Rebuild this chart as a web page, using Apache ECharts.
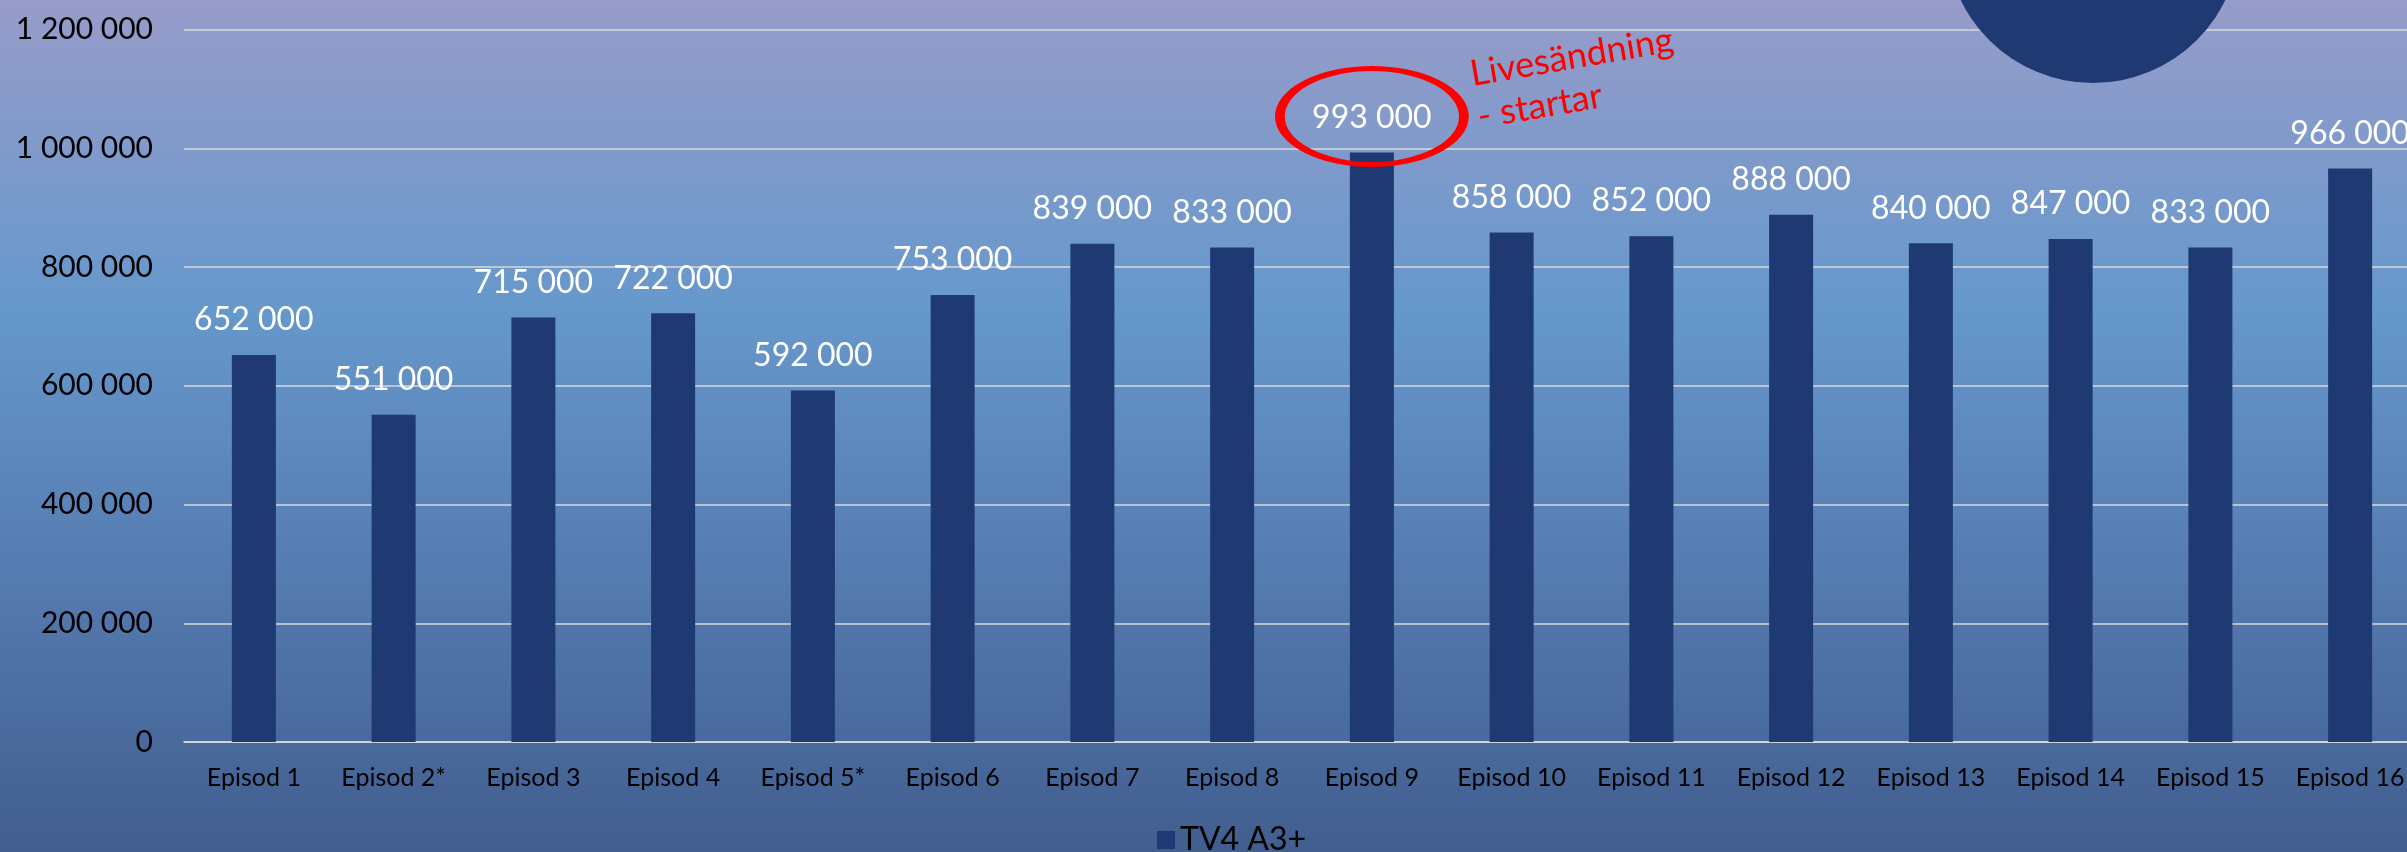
<!DOCTYPE html>
<html>
<head>
<meta charset="utf-8">
<script src="https://cdn.jsdelivr.net/npm/echarts@6/dist/echarts.min.js"></script>
<style>
html,body{margin:0;padding:0;width:2407px;height:852px;overflow:hidden;}
#c{width:2407px;height:852px;}
</style>
</head>
<body>
<div id="c"></div>
<script>
var categories = ['Episod 1','Episod 2*','Episod 3','Episod 4','Episod 5*','Episod 6','Episod 7','Episod 8','Episod 9','Episod 10','Episod 11','Episod 12','Episod 13','Episod 14','Episod 15','Episod 16'];
var viewers = [652000,551000,715000,722000,592000,753000,839000,833000,993000,858000,852000,888000,840000,847000,833000,966000];
var seriesName = 'TV4 A3+';
var yTicks = [0,200000,400000,600000,800000,1000000,1200000];
var annotationText = 'Livesändning\n- startar';
var annotatedIndex = 8;

function fmt(v){
  return String(v).replace(/\B(?=(\d{3})+(?!\d))/g,' ');
}

var chart = echarts.init(document.getElementById('c'));
var option = {
  animation:false,
  backgroundColor:{
    type:'linear',x:0,y:0,x2:0,y2:1,
    colorStops:[
      {offset:0,color:'#979CC9'},
      {offset:0.36,color:'#6698CC'},
      {offset:0.7,color:'#5479AE'},
      {offset:1,color:'#415E8E'}
    ]
  },
  grid:{left:184,top:29.5,width:2236,height:712.5,containLabel:false,outerBoundsMode:'none'},
  legend:{
    data:[seriesName],
    left:1152, top:819,
    icon:'rect', itemWidth:18, itemHeight:18, itemGap:8,
    textStyle:{color:'#000',fontFamily:'Lato',fontSize:32}
  },
  xAxis:{
    type:'category',
    data:categories,
    axisLine:{show:true,lineStyle:{color:'#D9D9D9',width:1.5}},
    axisTick:{show:false},
    axisLabel:{color:'#000',fontFamily:'Lato',fontSize:25,margin:23,interval:0}
  },
  yAxis:{
    type:'value',
    min:yTicks[0], max:yTicks[yTicks.length-1], interval:yTicks[1]-yTicks[0],
    axisLine:{show:false},
    axisTick:{show:false},
    splitLine:{lineStyle:{color:'#D9D9D9',width:1.5}},
    axisLabel:{color:'#000',fontFamily:'Lato',fontSize:30,margin:31,formatter:fmt}
  },
  series:[{
    name:seriesName,
    type:'bar',
    data:viewers,
    barWidth:44,
    itemStyle:{color:'#1F3A73'},
    label:{
      show:true, position:'top', distance:19,
      color:'#fff', fontFamily:'Lato', fontSize:32,
      formatter:function(p){return fmt(p.value);}
    }
  }]
};
chart.setOption(option);

// Annotation anchored on the annotated bar's label position
var p = chart.convertToPixel({seriesIndex:0},[annotatedIndex, viewers[annotatedIndex]]);
var labelCy = p[1] - 35;
chart.setOption({
  graphic:[
    {
      type:'circle',
      shape:{cx:0,cy:0,r:1},
      x:p[0], y:labelCy - 1,
      scaleX:92, scaleY:48,
      style:{fill:'none',stroke:'#FF0000',lineWidth:7,strokeNoScale:true},
      z:100
    },
    {
      type:'circle',
      shape:{cx:2093,cy:-64,r:147},
      style:{fill:'#1F3A73'},
      z:1
    },
    {
      type:'text',
      x:p[0] + 95, y:labelCy - 64,
      rotation:0.17,
      style:{text:annotationText,fill:'#FF0000',font:'36px Lato',lineHeight:43,textAlign:'left',textVerticalAlign:'top'},
      z:100
    }
  ]
});
</script>
</body>
</html>
